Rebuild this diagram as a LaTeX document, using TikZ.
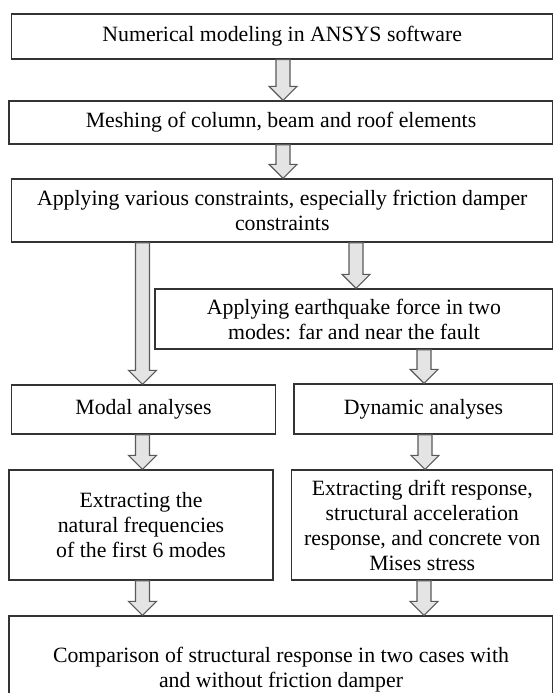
\documentclass[tikz,border=0pt]{standalone}
\usepackage{fontspec}
\setmainfont{Liberation Serif}
\usetikzlibrary{calc}
\definecolor{boxline}{HTML}{333333}
\definecolor{arrline}{HTML}{5A5A5A}
\definecolor{arrfill}{HTML}{E4E4E4}
\tikzset{
  box/.style={draw=boxline, line width=1.3pt, fill=white, rectangle, inner sep=0pt,
    align=center, font=\fontsize{21.8}{25}\selectfont},
  barrow/.style={draw=arrline, fill=arrfill, line width=1.2pt, line join=miter},
}
\newcommand\blockarr[3]{%
  \draw[barrow] let \p1=(#1.south), \p2=(#2.north), \p3=(#3,0) in
    ({\x3-7pt},\y1) -- ({\x3-7pt},{\y2+14pt}) -- ({\x3-14pt},{\y2+14pt}) --
    (\x3,\y2) -- ({\x3+14pt},{\y2+14pt}) -- ({\x3+7pt},{\y2+14pt}) --
    ({\x3+7pt},\y1) -- cycle;}
\begin{document}
\begin{tikzpicture}[x=1pt,y=-1pt]
\fill[white] (0,0) rectangle (552,693);
\useasboundingbox (0,0) rectangle (552,693);

\node[box, minimum width=541.5pt, minimum height=45pt] (n1) at (282.25,36.5)
  {Numerical modeling in ANSYS software};
\node[box, minimum width=544pt, minimum height=43pt] (n2) at (281,122.5)
  {Meshing of column, beam and roof elements};
\node[box, minimum width=541.5pt, minimum height=63pt] (n3) at (282.25,210.5)
  {Applying various constraints, especially friction damper\\constraints};
\node[box, minimum width=398pt, minimum height=60pt] (n4) at (354,319)
  {Applying earthquake force in two\\modes: far and near the fault};
\node[box, minimum width=264pt, minimum height=49pt] (n5) at (143.5,409.5)
  {Modal analyses};
\node[box, minimum width=259pt, minimum height=50pt] (n6) at (423.5,409)
  {Dynamic analyses};
\node[box, minimum width=264pt, minimum height=110pt] (n7) at (141,525)
  {Extracting the\\natural frequencies\\of the first 6 modes};
\node[box, minimum width=261.5pt, minimum height=110pt] (n8) at (422.25,525)
  {Extracting drift response,\\structural acceleration\\response, and concrete von\\Mises stress};
\node[box, minimum width=544pt, minimum height=108pt] (n9) at (281,670)
  {Comparison of structural response in two cases with\\and without friction damper};

\blockarr{n1}{n2}{283}
\blockarr{n2}{n3}{283}
\blockarr{n3}{n4}{356}
\blockarr{n3}{n5}{142.5}
\blockarr{n4}{n6}{424}
\blockarr{n5}{n7}{142.5}
\blockarr{n6}{n8}{425}
\blockarr{n7}{n9}{142.5}
\blockarr{n8}{n9}{424}
\end{tikzpicture}
\end{document}
